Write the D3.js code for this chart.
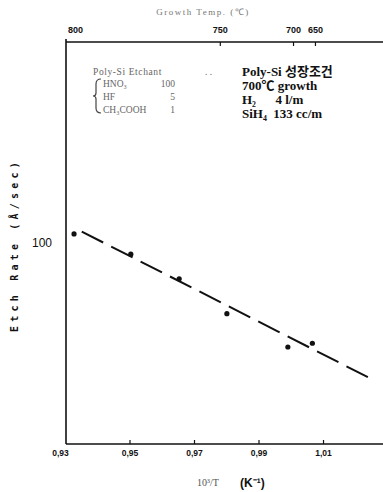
<!DOCTYPE html>
<html>
<head>
<meta charset="utf-8">
<script src="https://cdn.jsdelivr.net/npm/d3@7"></script>
<style>
  body { margin: 0; background: #fff; }
  svg { display: block; }
</style>
</head>
<body>
<div id="chart"></div>
<script>
// measured points: 10^3/T vs etch rate (A/sec)
const invT = [0.9328, 0.9504, 0.9654, 0.9802, 0.9991, 1.0067];
const rate = [105.3, 93.7, 81.3, 66.5, 54.9, 56.1];
// dashed fit line ends
const fitX = [0.9352, 1.0256];
const fitY = [106.7, 45.4];
// bottom ticks
const xTicks = [0.93, 0.95, 0.97, 0.99, 1.01];
const xTickLabels = ['0,93', '0,95', '0,97', '0,99', '1,01'];
// top growth-temperature ticks (placed on the 10^3/T axis as drawn)
const topTicks = [0.93, 0.978, 1.0007, 1.0075];
const topLabels = ['800', '750', '700', '650'];
const yTicks = [100];
// etchant recipe & growth conditions
const etchant = ['HNO\u2083', 'HF', 'CH\u2083COOH'];
const etchantParts = ['100', '5', '1'];
const growth = ['Poly-Si 성장조건', '700\u2103 growth', 'H\u2082      4 l/m', 'SiH\u2084  133 cc/m'];

const W = 383, H = 492;
const mLeft = 66, mTop = 42, mBottom = 444, mRight = 383;

const svg = d3.select('#chart').append('svg').attr('width', W).attr('height', H);

const x = d3.scaleLinear().domain([0.93, 1.0286]).range([65, mRight]);
const y = d3.scaleLog().domain([31.4, 318]).range([mBottom, mTop]);

const tickFont = 'Liberation Sans, Arial, sans-serif';

// frame
svg.append('line').attr('x1', mLeft).attr('x2', mLeft).attr('y1', mTop - 3).attr('y2', mBottom)
  .attr('stroke', '#111').attr('stroke-width', 1.6);
svg.append('line').attr('x1', mLeft).attr('x2', mRight).attr('y1', mTop).attr('y2', mTop)
  .attr('stroke', '#111').attr('stroke-width', 1.6);
svg.append('line').attr('x1', mLeft).attr('x2', mRight).attr('y1', mBottom).attr('y2', mBottom)
  .attr('stroke', '#111').attr('stroke-width', 1.6);

// bottom axis
const xAxis = d3.axisBottom(x).tickValues(xTicks).tickSize(-4).tickPadding(6)
  .tickFormat((d, i) => xTickLabels[i]);
const gx = svg.append('g').attr('transform', `translate(0,${mBottom})`).call(xAxis);
gx.select('.domain').remove();
gx.selectAll('line').attr('stroke', '#111').attr('stroke-width', 1.2);
gx.selectAll('text').attr('font-family', tickFont).attr('font-weight', 'bold')
  .attr('font-size', 8.5).attr('fill', '#111');
gx.selectAll('.tick').filter(d => d === 0.93).select('text').attr('dx', -5);
gx.selectAll('.tick').filter(d => d === 0.93).select('line').remove();

// top axis
const tAxis = d3.axisTop(x).tickValues(topTicks).tickSize(-4).tickPadding(9)
  .tickFormat((d, i) => topLabels[i]);
const gt = svg.append('g').attr('transform', `translate(0,${mTop})`).call(tAxis);
gt.select('.domain').remove();
gt.selectAll('line').attr('stroke', '#111').attr('stroke-width', 1.2);
gt.selectAll('text').attr('font-family', tickFont).attr('font-weight', 'bold')
  .attr('font-size', 9).attr('fill', '#111');
gt.selectAll('.tick').filter(d => d === 0.93).select('text').attr('dx', 10);
gt.selectAll('.tick').filter(d => d === 0.93).select('line').remove();

// left axis
const yAxis = d3.axisLeft(y).tickValues(yTicks).tickSize(0).tickPadding(14).tickFormat(d3.format('d'));
const gy = svg.append('g').attr('transform', `translate(${mLeft},0)`).call(yAxis);
gy.select('.domain').remove();
gy.selectAll('text').attr('font-family', tickFont).attr('font-size', 12).attr('fill', '#111');

// fit line
const line = d3.line().x(d => x(d[0])).y(d => y(d[1]));
svg.append('path').datum(d3.zip(fitX, fitY)).attr('d', line)
  .attr('fill', 'none').attr('stroke', '#111').attr('stroke-width', 2)
  .attr('stroke-dasharray', '24,9');

// points
svg.selectAll('.pt').data(d3.zip(invT, rate)).enter().append('circle')
  .attr('class', 'pt').attr('cx', d => x(d[0])).attr('cy', d => y(d[1]))
  .attr('r', 2.6).attr('fill', '#111');

// axis titles
svg.append('text').attr('x', 203).attr('y', 15).attr('text-anchor', 'middle')
  .attr('font-family', 'Liberation Serif, serif').attr('font-size', 9).attr('letter-spacing', 1.5)
  .attr('fill', '#777').text('Growth Temp. (\u2103)');

svg.append('text').attr('transform', 'translate(18,245) rotate(-90)').attr('text-anchor', 'middle')
  .attr('font-family', 'DejaVu Sans Mono, monospace').attr('font-weight', 'bold')
  .attr('font-size', 10).attr('letter-spacing', 4.2).attr('fill', '#111')
  .text('Etch Rate (\u00c5/sec)');

svg.append('text').attr('x', 197).attr('y', 486)
  .attr('font-family', 'Liberation Serif, serif').attr('font-size', 10).attr('fill', '#555')
  .text('10\u00b3/T');
svg.append('text').attr('x', 240).attr('y', 487)
  .attr('font-family', tickFont).attr('font-weight', 'bold').attr('font-size', 12).attr('fill', '#111')
  .text('(K\u207b\u00b9)');

// etchant legend (faint)
const lg = svg.append('g').attr('font-family', 'Liberation Serif, serif').attr('font-size', 9.5).attr('fill', '#666');
lg.append('text').attr('x', 93).attr('y', 75).attr('letter-spacing', 0.6).text('Poly-Si Etchant');
lg.append('text').attr('x', 205).attr('y', 75).text('.   .');
lg.selectAll('.en').data(etchant).enter().append('text')
  .attr('x', 103).attr('y', (d, i) => 87 + i * 13).text(d => d);
lg.selectAll('.ep').data(etchantParts).enter().append('text')
  .attr('x', 175).attr('y', (d, i) => 87 + i * 13).attr('text-anchor', 'end').text(d => d);
lg.append('path').attr('d', 'M101,79 Q96,79 96,84 L96,93 Q96,96 93,96 Q96,96 96,99 L96,108 Q96,113 101,113')
  .attr('fill', 'none').attr('stroke', '#444').attr('stroke-width', 1.2);

// growth conditions
svg.selectAll('.gc').data(growth).enter().append('text')
  .attr('x', 242).attr('y', (d, i) => 76 + i * 14)
  .attr('font-family', 'Liberation Serif, Noto Sans CJK KR, serif').attr('font-weight', 'bold')
  .attr('font-size', 13).attr('fill', '#111').attr('xml:space', 'preserve')
  .style('white-space', 'pre').text(d => d);
</script>
</body>
</html>
